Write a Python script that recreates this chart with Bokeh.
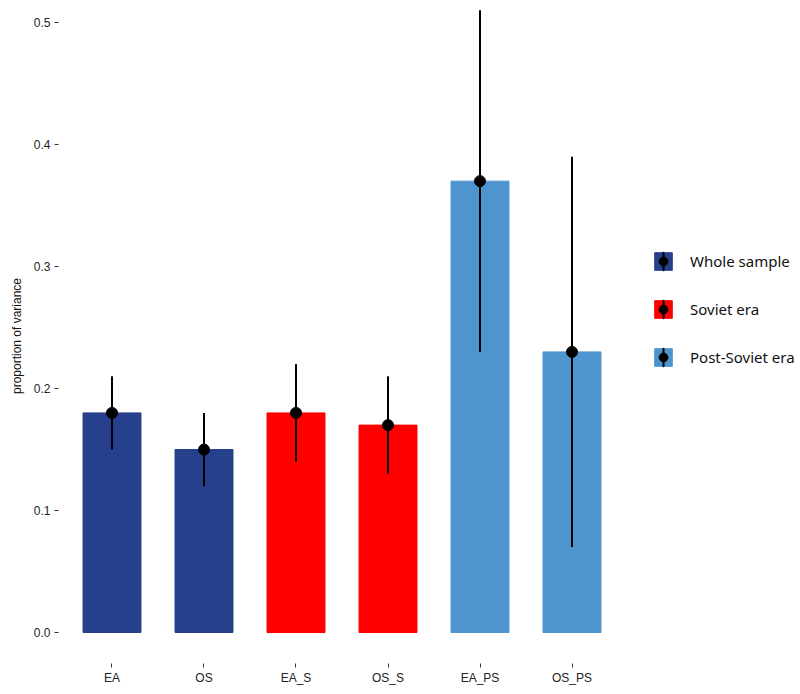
from bokeh.plotting import figure
from bokeh.models import (ColumnDataSource, FactorRange, Range1d, Legend, LegendItem,
                          FixedTicker, NumeralTickFormatter)
from bokeh.embed import file_html
from bokeh.resources import INLINE

categories = ["EA", "OS", "EA_S", "OS_S", "EA_PS", "OS_PS"]
estimates = [0.18, 0.15, 0.18, 0.17, 0.37, 0.23]
lower = [0.15, 0.12, 0.14, 0.13, 0.23, 0.07]
upper = [0.21, 0.18, 0.22, 0.21, 0.51, 0.39]
groups = ["Whole sample", "Whole sample", "Soviet era", "Soviet era", "Post-Soviet era", "Post-Soviet era"]
group_colors = {"Whole sample": "#26408B", "Soviet era": "#FF0000", "Post-Soviet era": "#4E94CF"}
colors = [group_colors[g] for g in groups]
y_ticks = [0.0, 0.1, 0.2, 0.3, 0.4, 0.5]

src = ColumnDataSource(dict(x=categories, top=estimates, lo=lower, hi=upper,
                            color=colors, group=groups))

p = figure(frame_width=567, frame_height=655, output_backend="svg", toolbar_location=None,
           x_range=FactorRange(factors=categories, range_padding=0.0815,
                               range_padding_units="absolute"),
           y_range=Range1d(-0.0254, 0.5115),
           min_border_left=58, min_border_right=167, min_border_top=8, min_border_bottom=23)

p.outline_line_color = None
p.grid.grid_line_color = None
p.background_fill_color = "white"

bars = p.vbar(x="x", top="top", bottom=0, width=0.63, source=src,
              fill_color="color", line_color="color")
p.segment(x0="x", y0="lo", x1="x", y1="hi", source=src, line_color="black", line_width=2)
# thin vertical ellipse hidden under the error bar; gives the vertical bar in the legend key
vline = p.ellipse(x="x", y="top", source=src, width=0.05, height=24,
                  width_units="screen", height_units="screen",
                  fill_color="black", line_color="black", line_width=2)
pts = p.scatter(x="x", y="top", source=src, marker="circle", size=11,
                fill_color="black", line_color="black")

for ax in (p.xaxis[0], p.yaxis[0]):
    ax.axis_line_color = None
    ax.major_tick_in = 0
    ax.major_tick_out = 4
    ax.major_tick_line_color = "#333333"
    ax.minor_tick_line_color = None
    ax.major_label_text_font = "Liberation Sans"
    ax.major_label_text_font_size = "12px"
    ax.major_label_text_color = "#222222"

p.yaxis.ticker = FixedTicker(ticks=y_ticks)
p.yaxis.formatter = NumeralTickFormatter(format="0.0")
p.yaxis.major_label_standoff = 4
p.yaxis.axis_label = "proportion of variance"
p.yaxis.axis_label_text_font = "Liberation Sans"
p.yaxis.axis_label_text_font_size = "12px"
p.yaxis.axis_label_text_font_style = "normal"
p.yaxis.axis_label_text_color = "#111111"
p.yaxis.axis_label_standoff = 7
p.xaxis.major_label_standoff = 3

items = []
for label, idx in [("Whole sample", 0), ("Soviet era", 2), ("Post-Soviet era", 4)]:
    items.append(LegendItem(label=label, renderers=[bars, vline, pts], index=idx))

legend = Legend(items=items, location=(27, 295), orientation="vertical",
                glyph_width=22, glyph_height=22, label_standoff=16, spacing=26,
                label_text_font="Noto Sans", label_text_font_size="15px",
                label_text_color="#111111", border_line_color=None,
                background_fill_alpha=0, padding=0, margin=0)
p.add_layout(legend, "right")

open("out.html", "w").write(file_html(p, INLINE))
